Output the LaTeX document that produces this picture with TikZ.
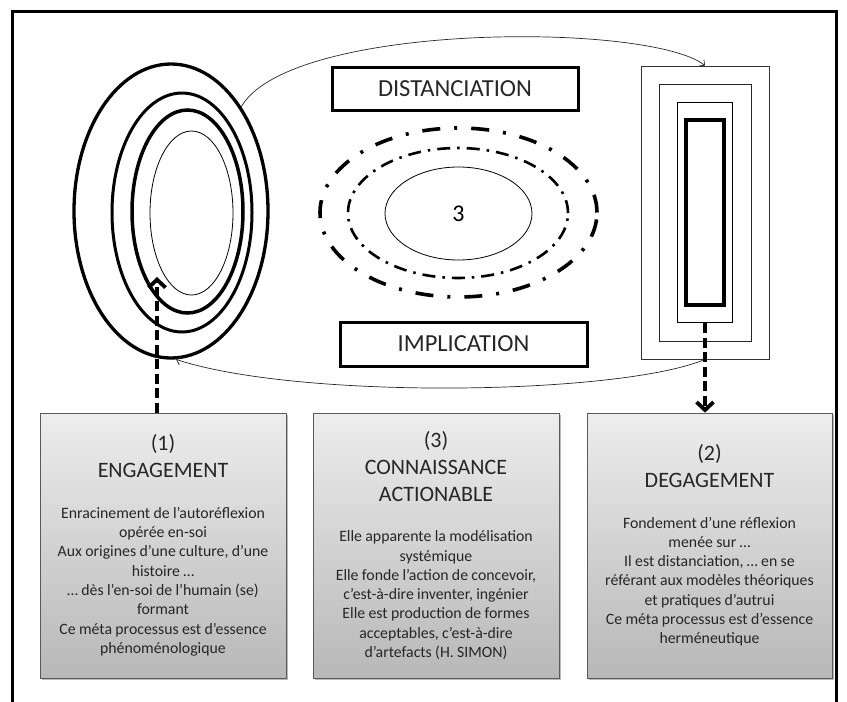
\documentclass[tikz,border=0pt]{standalone}
\usepackage{fontspec}
\setmainfont{Carlito}
\usetikzlibrary{positioning, arrows.meta, shapes.geometric, shadows}

\newcommand{\cardhead}{\fontsize{22}{27}\selectfont}
\newcommand{\cardbody}{\fontsize{15.8}{19.3}\selectfont}

\begin{document}
\begin{tikzpicture}[
    x=1pt, y=-1pt,
    ring/.style  = {ellipse, draw=black, inner sep=0pt},
    rect/.style  = {rectangle, draw=black!80, inner sep=0pt},
    tag/.style   = {draw=black, line width=3pt, minimum width=246pt, minimum height=43pt,
                    inner sep=0pt, text=black!85, font=\fontsize{24.5}{29}\selectfont},
    card/.style  = {draw=black!65, line width=0.7pt, top color=black!7, bottom color=black!28,
                    drop shadow={shadow xshift=1.5pt, shadow yshift=-1.8pt, opacity=0.55},
                    minimum width=246pt, minimum height=265pt, text width=240pt,
                    inner sep=0pt, align=center, text=black!85},
    flow/.style  = {draw=black, line width=3.8pt, dash pattern=on 10pt off 4.5pt,
                    -{Straight Barb[length=8pt, width=17pt]}},
    link/.style  = {draw=black!85, line width=0.7pt, -{Straight Barb[length=4pt, width=8pt]}},
  ]
  \useasboundingbox (0,0) rectangle (847,702);
  \draw[line width=3pt] (12,712) -- (12,11) -- (836,11) -- (836,712);

  % engagement: nested ellipses
  \foreach \n/\x/\y/\w/\h/\lw in {e1/171/211/194/294/3.3, e2/182/212.5/140/239/3,
                                  e3/187.5/211.5/111/203/3.5, e4/191.5/213/83/164/0.8}
    \node[ring, line width=\lw pt, minimum width=\w pt, minimum height=\h pt] (\n) at (\x,\y) {};

  % degagement: nested rectangles
  \foreach \n/\w/\h/\lw/\c in {r1/128/293/0.8/black!80, r2/92/257/1/black!85,
                               r3/55/220/1.4/black, r4/38/185/4/black}
    \node[rect, draw=\c, line width=\lw pt, minimum width=\w pt, minimum height=\h pt] (\n) at (705,212.5) {};

  % connaissance: dash-dot rings round the 3
  \node[ring, line width=3.6pt, minimum width=277pt, minimum height=169pt,
        dash pattern=on 18pt off 14pt on 3pt off 14pt] (k1) at (458.5,212.5) {};
  \node[ring, line width=2.6pt, minimum width=220pt, minimum height=130pt,
        dash pattern=on 13pt off 7pt on 2.5pt off 7pt] (k2) at (458,213) {};
  \node[ring, line width=0.8pt, minimum width=147pt, minimum height=93pt,
        font=\fontsize{24}{28}\selectfont] (k3) at (458.5,213.5) {3};

  \node[tag] (dist) at (455,88.5) {DISTANCIATION};
  \node[tag, minimum width=247pt, minimum height=44pt] (impl) at (463.5,344) {IMPLICATION};

  % the three cards
  \node[card] (eng) at (163,545.5)
      {\cardhead (1)\\ENGAGEMENT\par\vspace{21pt}\cardbody
       Enracinement de l’autoréflexion\\opérée en-soi\\Aux origines d’une culture, d’une\\histoire …\\
       … dès l’en-soi de l’humain (se)\\formant\\Ce méta processus est d’essence\\phénoménologique\par};
  \node[card] (conn) at (436,545.5)
      {\cardhead (3)\\CONNAISSANCE\\ACTIONABLE\par\vspace{21pt}\cardbody
       Elle apparente la modélisation\\systémique\\Elle fonde l’action de concevoir,\\
       c’est-à-dire inventer, ingénier\\Elle est production de formes\\acceptables, c’est-à-dire\\
       d’artefacts (H. SIMON)\par};
  \node[card, minimum width=245pt] (deg) at (709.5,545.5)
      {\cardhead (2)\\DEGAGEMENT\par\vspace{21pt}\cardbody
       Fondement d’une réflexion\\menée sur …\\Il est distanciation, … en se\\
       référant aux modèles théoriques\\et pratiques d’autrui\\Ce méta processus est d’essence\\
       herméneutique\par};

  % arcs between the two figures
  \draw[link] (e1.56) .. controls (290,22) and (650,22) .. (r1.north);
  \draw[link] (r1.south) .. controls (620,395) and (300,400) .. (e1.272);

  % dashed arrows to and from the cards
  \coordinate (tip) at (157,277);
  \draw[flow] (eng.north -| tip) -- (tip);
  \draw[flow] (r3.south) -- (r3.south |- deg.north);
\end{tikzpicture}
\end{document}
